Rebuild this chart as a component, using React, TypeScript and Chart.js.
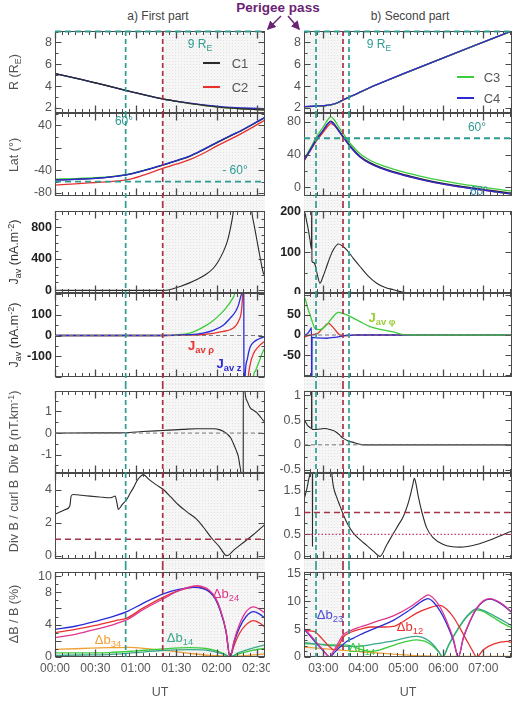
import React, { useEffect, useRef } from 'react';
import { Chart, registerables } from 'chart.js';

Chart.register(...registerables);

type Pt = [number, number | null];

// ---------------- time axes (minutes after 00:00 UT) ----------------
const LEFT_TIME_TICKS = [0, 30, 60, 90, 120, 150];
const LEFT_TIME_LABELS = ['00:00', '00:30', '01:00', '01:30', '02:00', '02:30'];
const RIGHT_TIME_TICKS = [180, 240, 300, 360, 420];
const RIGHT_TIME_LABELS = ['03:00', '04:00', '05:00', '06:00', '07:00'];

const LEFT_EVENTS = [52.5, 80];
const RIGHT_EVENTS = [169, 209.5, 218.5];
const LEFT_SHADE = [80, 156];
const RIGHT_SHADE = [151, 209.5];

// ---------------- y tick labels ----------------
const R_TICKS = [2, 4, 6, 8];
const LAT_L_TICKS = [-80, -40, 40];
const LAT_R_TICKS = [0, 40, 80];
const JAV_L_TICKS = [0, 400, 800];
const JAV_R_TICKS = [0, 100, 200];
const JAVC_L_TICKS = [-100, 0, 100];
const JAVC_R_TICKS = [-50, 0, 50];
const DIVB_L_TICKS = [-1, 0, 1];
const DIVB_R_TICKS = [-0.5, 0, 0.5, 1];
const DBC_L_TICKS = [0, 2, 4];
const DBC_R_TICKS = [0, 0.5, 1, 1.5];
const DB_L_TICKS = [0, 4, 8, 10];
const DB_R_TICKS = [0, 5, 10, 15];

// ---------------- data: first part ----------------
const R_LEFT: Pt[] = [[0, 5.15], [10, 4.88], [20, 4.6], [30, 4.3], [40, 4.0], [53, 3.6], [65, 3.24], [80, 2.83], [95, 2.52], [110, 2.25], [125, 2.04], [140, 1.92], [156, 1.82]];
const R_LEFT_C4: Pt[] = [[0, 5.15], [10, 4.88], [20, 4.6], [30, 4.3], [40, 4.0], [53, 3.6], [65, 3.24], [80, 2.83], [95, 2.53], [110, 2.28], [125, 2.1], [140, 2.0], [156, 1.93]];

const LAT_L_C1: Pt[] = [[0, -57], [15, -56], [30, -54], [45, -50.5], [53, -48], [65, -41], [80, -30.5], [90, -23], [100, -15], [110, -3.5], [120, 9], [130, 21], [138, 30], [147, 42], [156, 54]];
const LAT_L_C2: Pt[] = [[0, -66], [15, -64], [30, -61.5], [45, -59], [53, -57], [65, -49], [80, -36.5], [90, -29], [100, -21], [110, -10], [120, 3], [130, 15], [138, 25], [147, 37], [156, 49.5]];
const LAT_L_C3: Pt[] = [[0, -55.5], [15, -54.5], [30, -53], [45, -50], [53, -47.5], [65, -40.5], [80, -30.5], [90, -23], [100, -15], [110, -3.5], [120, 9], [130, 21], [138, 30], [147, 42], [156, 54]];
const LAT_L_C4: Pt[] = [[0, -57], [15, -56], [30, -54], [45, -50.5], [53, -48], [65, -41], [80, -30], [90, -22.5], [100, -14.5], [110, -3], [120, 9.5], [130, 21.5], [138, 30.5], [147, 42.5], [156, 54.5]];

const JAV_LEFT: Pt[] = [[0, 0], [80, 0], [85, 8], [93, 50], [100, 95], [105, 134], [112, 200], [117.6, 280], [121, 360], [125, 487], [128, 620], [130, 758], [132.5, 1000], [134, 1250], [139, null], [145, 1300], [146.2, 1000], [148, 820], [150, 634], [152, 450], [154.8, 217], [156, 190]];

const JAVC_L_PHI: Pt[] = [[0, 0], [80, 0], [90, 3], [100, 12], [105, 24], [112, 48], [117.6, 73], [123, 105], [127.6, 138], [131, 170], [133.7, 210], [134.5, 260], [140, null], [146.8, -280], [147.3, -205], [149, -170], [151, -137], [154.8, -73], [156, -60]];
const JAVC_L_RHO: Pt[] = [[0, 0], [80, 0], [100, 2], [110, 5], [117.6, 10], [125, 20], [130, 28], [134, 45], [136.2, 68], [138.5, 120], [139.5, 210], [140, 300], [141.5, null], [143, -300], [143.6, -205], [145, -140], [147.3, -90], [151, -55], [154.8, -33], [156, -28]];
const JAVC_L_Z: Pt[] = [[0, 0], [80, 0], [100, 4], [110, 12], [117.6, 25], [125, 50], [130, 83], [134, 115], [136.2, 146], [138, 190], [138.7, 210], [140.2, 400], [140.4, -400], [141.2, -201], [143, -110], [144.9, -57], [148, -30], [151, -18], [154.8, -8], [156, -6]];

const DIVB_LEFT: Pt[] = [[0, 0], [30, 0.01], [45, 0.01], [55, 0.03], [65, 0.07], [80, 0.12], [95, 0.17], [105, 0.2], [118, 0.2], [122, 0.16], [125, 0.08], [128, -0.05], [130.5, -0.22], [132.5, -0.48], [134.5, -0.78], [136.2, -1.09], [137.3, -1.5], [138, -1.8], [139, -3], [139.8, -3], [139.9, 3], [140.5, 3], [141.2, 1.9], [143, 1.45], [144.9, 1.18], [147.5, 1.05], [149.9, 0.95], [152, 0.8], [154.8, 0.58], [156, 0.52]];

const DBC_LEFT: Pt[] = [[0, 2.5], [4, 2.65], [8, 2.8], [11, 3.0], [12, 3.6], [13.6, 3.7], [20, 3.65], [26, 3.6], [33, 3.55], [40.9, 3.5], [43, 3.55], [44.6, 3.6], [46, 3.2], [47, 2.8], [50, 3.1], [53.3, 3.4], [56, 3.8], [58.2, 4.1], [60.7, 4.5], [63, 4.75], [65.6, 4.9], [70, 4.6], [75, 4.3], [80.5, 4.0], [86, 3.55], [92, 3.05], [98, 2.65], [105.3, 2.2], [110, 1.75], [116, 1.1], [122, 0.55], [127.6, 0], [133, 0.35], [140, 0.8], [147, 1.25], [154.8, 1.8], [156, 1.88]];

const DB_L_B24: Pt[] = [[0, 2.4], [15, 2.8], [30, 3.4], [45, 4.1], [53.3, 4.6], [65, 5.8], [80.5, 7.2], [92, 8.2], [106, 8.8], [111, 8.6], [115, 8.2], [119, 7.4], [123, 5.8], [127, 3.3], [130, 0], [133, 2.0], [137, 4.0], [142, 5.6], [147.4, 6.2], [152, 5.9], [156, 5.4]];
const DB_L_B23: Pt[] = [[0, 3.4], [15, 3.8], [30, 4.4], [45, 5.1], [53.3, 5.6], [65, 6.6], [80.5, 7.8], [92, 8.35], [102.8, 8.6], [110, 8.45], [115, 8.0], [119, 7.2], [123, 5.6], [127, 3.2], [130, 0], [133, 1.8], [137, 3.6], [142, 5.0], [147.4, 5.6], [152, 5.3], [156, 4.8]];
const DB_L_B12: Pt[] = [[0, 3.0], [15, 3.4], [30, 3.9], [45, 4.5], [53.3, 4.8], [65, 6.0], [80.5, 7.4], [92, 8.2], [104, 8.65], [110, 8.5], [115, 8.1], [119, 7.3], [123, 5.7], [127, 3.2], [130, 0], [133, 1.4], [137, 2.9], [142, 4.0], [147.4, 4.5], [152, 4.2], [156, 3.7]];
const DB_L_B34: Pt[] = [[0, 0.95], [20, 1.05], [40, 1.15], [55, 1.2], [70, 1.0], [85, 0.75], [100, 0.45], [115, 0.2], [130, 0.1], [140, 0.15], [150, 0.3], [156, 0.4]];
const DB_L_B13: Pt[] = [[0, 0.5], [20, 0.5], [40, 0.55], [60, 0.75], [80, 1.0], [100, 1.15], [112, 1.05], [120, 0.75], [126, 0.35], [130, 0], [136, 0.35], [145, 0.75], [156, 1.1]];
const DB_L_B14: Pt[] = [[0, 0.2], [20, 0.25], [40, 0.3], [60, 0.55], [80, 0.8], [100, 0.9], [112, 0.85], [120, 0.6], [126, 0.3], [130, 0], [136, 0.5], [145, 1.0], [156, 1.5]];

// ---------------- data: second part ----------------
const R_RIGHT: Pt[] = [[151, 2.12], [165, 2.15], [180, 2.2], [190, 2.27], [198, 2.4], [205, 2.58], [210, 2.74], [220, 3.02], [232, 3.35], [245, 3.73], [270, 4.38], [300, 5.13], [345, 6.22], [400, 7.55], [463, 9.05]];
const R_RIGHT_C4: Pt[] = [[151, 2.13], [165, 2.16], [180, 2.21], [190, 2.28], [198, 2.41], [205, 2.59], [210, 2.75], [220, 3.03], [232, 3.36], [245, 3.74], [270, 4.39], [300, 5.14], [345, 6.23], [400, 7.56], [463, 9.06]];

const LAT_R_C1: Pt[] = [[151, 33], [160, 45], [170, 59], [180, 70], [187, 78], [191, 81], [196, 78], [203, 70], [210, 62], [222, 49], [235, 38], [250, 30], [265, 24.5], [285, 19], [310, 13.5], [335, 8.6], [360, 4.5], [385, 1.2], [410, -1.8], [435, -4.5], [463, -7.8]];
const LAT_R_C2: Pt[] = [[151, 32], [160, 44], [170, 57], [180, 67.5], [187, 75], [191, 78], [196, 76], [203, 69], [210, 61], [222, 48], [235, 37], [250, 29], [265, 23.5], [285, 18], [310, 12.5], [335, 7.6], [360, 3.5], [385, 0.2], [410, -2.8], [435, -5.5], [463, -8.5]];
const LAT_R_C3: Pt[] = [[151, 34], [160, 47], [170, 62], [180, 74], [187, 83], [191, 86.5], [196, 83], [203, 74], [210, 65.5], [222, 52], [235, 41], [250, 33], [265, 27.5], [285, 22], [310, 16.5], [335, 11.5], [360, 7.5], [385, 4], [410, 1], [435, -2], [463, -5]];
const LAT_R_C4: Pt[] = [[151, 33], [160, 45], [170, 59], [180, 70], [187, 78], [191, 80], [196, 77], [203, 69], [210, 61], [222, 48], [235, 37], [250, 29], [265, 23.5], [285, 18], [310, 12.5], [335, 7.6], [360, 3.5], [385, 0.2], [410, -2.8], [435, -5.5], [463, -8.8]];

const JAV_RIGHT: Pt[] = [[151, 200], [152.5, 196], [155, 175], [157.5, 155], [160, 130], [162.3, 108], [162.5, 210], [162.7, 210], [162.9, 78], [165, 75], [167.5, 70], [171, 45], [175, 24], [179, 38], [185, 65], [190, 88], [195, 106], [202.5, 120], [208, 116], [215, 106], [225, 85], [235, 65], [247, 42], [260, 24], [272, 14], [285, 8], [300, 2], [320, 0.5], [463, 0.5]];

const JAVC_R_PHI: Pt[] = [[151, 95], [152.5, 91], [156, 70], [160, 50], [164, 30], [167.5, 16], [175, 13], [185, 25], [193, 42], [202.5, 56], [210, 53], [220, 46], [235, 33], [250, 21], [265, 14], [285, 8], [300, 1], [320, 0], [463, 0]];
const JAVC_R_RHO: Pt[] = [[151, -5], [160, 0], [168, 2], [172.5, 5], [180, 18], [187.5, 29], [193, 22], [200, 8], [205, 0], [215, -2], [230, 0], [463, 0]];
const JAVC_R_Z: Pt[] = [[151, 0], [156, 3], [160, 12], [162.3, 18], [162.5, -150], [162.8, -150], [163.1, -6], [170, -7], [185, -8], [200, -5], [215, -1], [230, 0], [463, 0]];

const DIVB_RIGHT: Pt[] = [[151, 0.5], [152.5, 0.48], [156, 0.4], [160, 0.35], [162.3, 0.33], [162.5, 1.5], [162.7, 1.5], [162.9, 0.31], [165, 0.31], [175, 0.32], [183, 0.33], [190, 0.31], [195, 0.29], [200, 0.25], [205, 0.19], [210, 0.13], [217, 0.08], [225, 0.05], [232, 0.02], [240, 0], [463, 0]];

const DBC_RIGHT: Pt[] = [[151, 1.3], [155, 1.52], [158, 1.75], [160, 1.9], [163.5, 2.6], [163.7, 0.23], [163.9, 2.6], [175, null], [190, 2.6], [193, 1.85], [195, 1.6], [200, 1.35], [205, 1.15], [210, 0.95], [217, 0.72], [225, 0.53], [235, 0.38], [245, 0.25], [255, 0.12], [265, 0], [275, 0.26], [285, 0.52], [292, 0.7], [300, 0.91], [306, 1.15], [310, 1.36], [314, 1.62], [316.5, 1.78], [319, 1.65], [322.5, 1.36], [328, 1.0], [335, 0.65], [345, 0.42], [360, 0.27], [385, 0.21], [410, 0.27], [435, 0.4], [463, 0.58]];

const DB_R_B24: Pt[] = [[151, 5.2], [160, 4.0], [170, 2.6], [180, 1.2], [190, 0], [192.5, 0.5], [200, 2.0], [210, 4.0], [220, 4.7], [235, 5.4], [260, 6.4], [285, 7.4], [310, 9.0], [330, 10.7], [337, 11.2], [345, 10.6], [355, 9.0], [365, 6.5], [375, 3.3], [382.5, 0], [390, 3.5], [400, 6.5], [410, 8.8], [420, 10.1], [430, 10.5], [445, 9.8], [463, 8.1]];
const DB_R_B23: Pt[] = [[151, 5.0], [160, 3.8], [170, 2.4], [180, 1.1], [190, 0], [195, 0.6], [205, 1.8], [215, 2.8], [225, 3.4], [235, 4.0], [260, 5.3], [285, 6.6], [310, 8.5], [330, 10.2], [337, 10.5], [345, 9.9], [355, 8.3], [365, 6.0], [375, 3.0], [382.5, 0], [390, 3.4], [400, 6.4], [410, 8.7], [420, 10.0], [430, 10.4], [445, 9.7], [463, 8.0]];
const DB_R_B12: Pt[] = [[151, 4.8], [160, 4.7], [168, 4.5], [178, 3.3], [188, 2.0], [196, 1.3], [203, 2.0], [210, 3.6], [222, 4.5], [235, 5.0], [250, 5.4], [270, 5.4], [285, 5.5], [300, 6.4], [320, 7.9], [340, 8.9], [355, 9.3], [365, 8.6], [375, 7.2], [385, 5.2], [395, 3.0], [403, 1.3], [410, 0], [420, 1.3], [435, 2.3], [455, 2.8], [463, 2.6]];
const DB_R_B13: Pt[] = [[151, 2.6], [165, 2.4], [180, 2.2], [200, 2.0], [220, 1.9], [240, 2.0], [260, 2.4], [285, 2.9], [305, 3.5], [320, 3.7], [333, 3.3], [345, 2.2], [353, 1.0], [359, 0], [368, 2.2], [380, 4.7], [395, 7.3], [410, 8.7], [420, 8.4], [435, 7.5], [450, 6.5], [463, 5.6]];
const DB_R_B14: Pt[] = [[151, 2.4], [170, 2.3], [190, 2.2], [210, 2.2], [222, 2.0], [235, 1.4], [250, 1.0], [265, 1.3], [285, 2.1], [305, 2.8], [320, 3.1], [333, 2.8], [345, 1.9], [353, 0.9], [359, 0], [368, 2.1], [380, 4.6], [395, 7.2], [410, 8.5], [420, 8.2], [435, 7.1], [450, 6.0], [463, 5.2]];
const DB_R_B34: Pt[] = [[151, 1.8], [180, 1.5], [210, 1.2], [240, 0.9], [270, 0.65], [300, 0.4], [330, 0.2], [355, 0.1], [380, 0.1], [463, 0.1]];

// ---------------- styles ----------------
const FONT = '"Liberation Sans", Arial, Helvetica, sans-serif';
const TEAL = '#2f9c92';
const MAROON = '#a63348';
const BLACK = '#2a2a2a';
const RED = '#e8312f';
const GREEN = '#3ccc3c';
const BLUE = '#2b2bd6';
const MAGENTA = '#e0358c';
const ORANGE = '#f0a035';
const TEALG = '#3aa88a';
const GRAY = '#555';

type Series = { d: Pt[]; c: string; w?: number };
type HLine = { y: number; c: string; dash: number[]; w: number };
type PanelDef = { yMin: number; yMax: number; ticks: number[]; minor: number; major: number; series: Series[]; hlines: HLine[]; bold?: boolean };

const LEFT_COL = { x0: 0, w: 270, axisW: 55, padR: 5, xMin: 0, xMax: 156, xTicks: LEFT_TIME_TICKS, xLabels: LEFT_TIME_LABELS, xMinor: 5, events: [{ x: LEFT_EVENTS[0], c: TEAL }, { x: LEFT_EVENTS[1], c: MAROON }], shade: LEFT_SHADE };
const RIGHT_COL = { x0: 270, w: 248, axisW: 34, padR: 6, xMin: 151, xMax: 463, xTicks: RIGHT_TIME_TICKS, xLabels: RIGHT_TIME_LABELS, xMinor: 10, events: [{ x: RIGHT_EVENTS[0], c: TEAL }, { x: RIGHT_EVENTS[1], c: MAROON }, { x: RIGHT_EVENTS[2], c: TEAL }], shade: RIGHT_SHADE };

const ROWS = [
  { top: 31, bottom: 113, extTop: 0, extBot: 0 },
  { top: 113, bottom: 196, extTop: 0, extBot: 7 },
  { top: 211, bottom: 293, extTop: 8, extBot: 0 },
  { top: 293, bottom: 377, extTop: 0, extBot: 7 },
  { top: 391, bottom: 473, extTop: 7, extBot: 0 },
  { top: 473, bottom: 559, extTop: 0, extBot: 6 },
  { top: 572, bottom: 657, extTop: 7, extBot: 0 },
];

const ZERO_DASH: HLine = { y: 0, c: '#777', dash: [4, 3], w: 1 };

const LEFT_PANELS: PanelDef[] = [
  { yMin: 1.54, yMax: 9.05, ticks: R_TICKS, minor: 1, major: 2, hlines: [{ y: 9, c: TEAL, dash: [6, 4], w: 2 }],
    series: [{ d: R_LEFT, c: RED }, { d: R_LEFT, c: GREEN }, { d: R_LEFT_C4, c: BLUE }, { d: R_LEFT, c: BLACK, w: 1.1 }] },
  { yMin: -85.5, yMax: 62, ticks: LAT_L_TICKS, minor: 20, major: 40, hlines: [{ y: -60, c: TEAL, dash: [6, 4], w: 1.8 }],
    series: [{ d: LAT_L_C2, c: RED }, { d: LAT_L_C3, c: GREEN }, { d: LAT_L_C1, c: BLACK }, { d: LAT_L_C4, c: BLUE }] },
  { yMin: -33, yMax: 1004, ticks: JAV_L_TICKS, minor: 100, major: 400, hlines: [], bold: true,
    series: [{ d: JAV_LEFT, c: BLACK, w: 1.1 }] },
  { yMin: -201, yMax: 206, ticks: JAVC_L_TICKS, minor: 50, major: 100, hlines: [ZERO_DASH], bold: true,
    series: [{ d: JAVC_L_PHI, c: GREEN }, { d: JAVC_L_RHO, c: RED }, { d: JAVC_L_Z, c: BLUE }] },
  { yMin: -1.85, yMax: 1.95, ticks: DIVB_L_TICKS, minor: 0.5, major: 1, hlines: [ZERO_DASH],
    series: [{ d: DIVB_LEFT, c: BLACK, w: 1.1 }] },
  { yMin: -0.2, yMax: 5.0, ticks: DBC_L_TICKS, minor: 1, major: 2, hlines: [{ y: 1, c: MAROON, dash: [6, 4], w: 1.5 }],
    series: [{ d: DBC_LEFT, c: BLACK, w: 1.1 }] },
  { yMin: 0, yMax: 10.5, ticks: DB_L_TICKS, minor: 1, major: 2, hlines: [],
    series: [{ d: DB_L_B34, c: ORANGE }, { d: DB_L_B13, c: GREEN }, { d: DB_L_B14, c: TEALG }, { d: DB_L_B12, c: RED }, { d: DB_L_B23, c: BLUE }, { d: DB_L_B24, c: MAGENTA }] },
];

const RIGHT_PANELS: PanelDef[] = [
  { yMin: 1.54, yMax: 9.05, ticks: R_TICKS, minor: 1, major: 2, hlines: [{ y: 9, c: TEAL, dash: [6, 4], w: 2 }],
    series: [{ d: R_RIGHT, c: BLACK }, { d: R_RIGHT, c: RED }, { d: R_RIGHT, c: GREEN }, { d: R_RIGHT_C4, c: BLUE }] },
  { yMin: -11, yMax: 91, ticks: LAT_R_TICKS, minor: 20, major: 40, hlines: [{ y: 60, c: TEAL, dash: [6, 4], w: 1.8 }],
    series: [{ d: LAT_R_C3, c: GREEN }, { d: LAT_R_C2, c: RED }, { d: LAT_R_C1, c: BLACK }, { d: LAT_R_C4, c: BLUE }] },
  { yMin: 0, yMax: 201, ticks: JAV_R_TICKS, minor: 50, major: 100, hlines: [], bold: true,
    series: [{ d: JAV_RIGHT, c: BLACK, w: 1.1 }] },
  { yMin: -104, yMax: 104, ticks: JAVC_R_TICKS, minor: 25, major: 50, hlines: [ZERO_DASH], bold: true,
    series: [{ d: JAVC_R_RHO, c: RED }, { d: JAVC_R_Z, c: BLUE }, { d: JAVC_R_PHI, c: GREEN }] },
  { yMin: -0.57, yMax: 1.09, ticks: DIVB_R_TICKS, minor: 0.25, major: 0.5, hlines: [ZERO_DASH],
    series: [{ d: DIVB_RIGHT, c: BLACK, w: 1.1 }] },
  { yMin: -0.06, yMax: 1.9, ticks: DBC_R_TICKS, minor: 0.25, major: 0.5,
    hlines: [{ y: 1, c: MAROON, dash: [6, 4], w: 1.5 }, { y: 0.5, c: '#c83a6e', dash: [1.5, 2], w: 1.2 }],
    series: [{ d: DBC_RIGHT, c: BLACK, w: 1.1 }] },
  { yMin: 0, yMax: 15.3, ticks: DB_R_TICKS, minor: 1, major: 5, hlines: [],
    series: [{ d: DB_R_B34, c: ORANGE }, { d: DB_R_B14, c: GREEN }, { d: DB_R_B13, c: TEALG }, { d: DB_R_B12, c: RED }, { d: DB_R_B23, c: BLUE }, { d: DB_R_B24, c: MAGENTA }] },
];

function shadePattern(ctx: CanvasRenderingContext2D) {
  const pc = document.createElement('canvas');
  pc.width = 3;
  pc.height = 3;
  const c = pc.getContext('2d')!;
  c.fillStyle = '#f6f6f6';
  c.fillRect(0, 0, 3, 3);
  c.fillStyle = '#e2e2e2';
  c.fillRect(1, 1, 1, 1);
  return ctx.createPattern(pc, 'repeat')!;
}

function makeDeco(col: any, row: any, panel: PanelDef) {
  return {
    id: 'deco',
    beforeDatasetsDraw(chart: any) {
      const { ctx, chartArea: ca } = chart;
      const xs = chart.scales.x;
      const y0 = ca.top - row.extTop;
      const y1 = ca.bottom + row.extBot;
      ctx.save();
      const a = Math.max(ca.left, xs.getPixelForValue(col.shade[0]));
      const b = Math.min(ca.right, xs.getPixelForValue(col.shade[1]));
      ctx.fillStyle = shadePattern(ctx);
      ctx.fillRect(a, y0, b - a, y1 - y0);
      ctx.restore();
    },
    afterDatasetsDraw(chart: any) {
      const { ctx, chartArea: ca } = chart;
      const xs = chart.scales.x;
      const ys = chart.scales.y;
      const y0 = ca.top - row.extTop;
      const y1 = ca.bottom + row.extBot;
      const line = (x1: number, yA: number, x2: number, yB: number) => {
        ctx.beginPath();
        ctx.moveTo(x1, yA);
        ctx.lineTo(x2, yB);
        ctx.stroke();
      };
      ctx.save();
      // frame + ticks
      ctx.setLineDash([]);
      ctx.strokeStyle = '#4a4a4a';
      ctx.lineWidth = 1;
      const L = Math.round(ca.left) + 0.5;
      const R = Math.round(ca.right) - 0.5;
      const T = Math.round(ca.top) + 0.5;
      const B = Math.round(ca.bottom) - 0.5;
      ctx.strokeRect(L, T, R - L, B - T);
      const xStart = Math.ceil(col.xMin / col.xMinor) * col.xMinor;
      for (let v = xStart; v <= col.xMax + 1e-9; v += col.xMinor) {
        const px = Math.round(xs.getPixelForValue(v)) + 0.5;
        const major = col.xTicks.some((t: number) => Math.abs(t - v) < 1e-6);
        const len = major ? 7 : 3.5;
        ctx.lineWidth = major ? 1.3 : 1;
        line(px, B, px, B - len);
        line(px, T, px, T + len);
      }
      const yStart = Math.ceil(panel.yMin / panel.minor - 1e-9) * panel.minor;
      for (let v = yStart; v <= panel.yMax + 1e-9; v += panel.minor) {
        const py = Math.round(ys.getPixelForValue(v)) + 0.5;
        const r = v / panel.major;
        const major = Math.abs(r - Math.round(r)) < 1e-6;
        const len = major ? 6 : 3;
        ctx.lineWidth = 1;
        line(L, py, L + len, py);
        line(R, py, R - len, py);
      }
      // horizontal reference lines
      for (const h of panel.hlines) {
        const py = ys.getPixelForValue(h.y);
        ctx.strokeStyle = h.c;
        ctx.lineWidth = h.w;
        ctx.setLineDash(h.dash);
        line(ca.left, py, ca.right, py);
      }
      // event lines
      for (const ev of col.events) {
        const px = xs.getPixelForValue(ev.x);
        ctx.strokeStyle = ev.c;
        ctx.lineWidth = 1.7;
        ctx.setLineDash([5, 3]);
        line(px, y0, px, y1);
      }
      ctx.restore();
    },
  };
}

function Panel({ col, row, panel, isBottom }: { col: any; row: any; panel: PanelDef; isBottom: boolean }) {
  const ref = useRef<HTMLCanvasElement>(null);
  const canvasTop = row.top - row.extTop - 1;
  const canvasBottom = isBottom ? 706 : row.bottom + row.extBot + 1;
  const h = canvasBottom - canvasTop;
  useEffect(() => {
    const tickColor = panel.bold ? '#222' : GRAY;
    const chart = new Chart(ref.current!, {
      type: 'line',
      data: {
        datasets: [...panel.series].reverse().map((s) => ({
          data: s.d.map(([x, y]) => ({ x, y })),
          borderColor: s.c,
          borderWidth: s.w ?? 1.3,
          pointRadius: 0,
          fill: false,
          cubicInterpolationMode: 'monotone',
          spanGaps: false,
        })),
      },
      options: {
        responsive: false,
        animation: false,
        events: [],
        layout: { padding: { left: 0, right: col.padR, top: row.extTop + 1, bottom: isBottom ? 0 : row.extBot + 1 } },
        plugins: { legend: { display: false }, tooltip: { enabled: false } },
        scales: {
          x: {
            type: 'linear',
            min: col.xMin,
            max: col.xMax,
            display: isBottom,
            grid: { display: false, drawTicks: false },
            border: { display: false },
            afterBuildTicks: (s: any) => {
              s.ticks = col.xTicks.map((v: number) => ({ value: v }));
            },
            afterFit: (s: any) => {
              if (isBottom) {
                s.height = 49;
                s.paddingLeft = 0;
                s.paddingRight = 0;
              }
            },
            ticks: {
              autoSkip: false,
              maxRotation: 0,
              padding: 4,
              color: GRAY,
              font: { family: FONT, size: 12 },
              callback: (v: any) => {
                const i = col.xTicks.indexOf(v);
                return i >= 0 ? col.xLabels[i] : '';
              },
            },
            title: { display: true, text: 'UT', color: GRAY, font: { family: FONT, size: 12.5 }, padding: { top: 4, bottom: 6 } },
          },
          y: {
            type: 'linear',
            min: panel.yMin,
            max: panel.yMax,
            grid: { display: false, drawTicks: false },
            border: { display: false },
            afterBuildTicks: (s: any) => {
              s.ticks = panel.ticks.map((v) => ({ value: v }));
            },
            afterFit: (s: any) => {
              s.width = col.axisW;
              s.paddingTop = 0;
              s.paddingBottom = 0;
            },
            ticks: {
              autoSkip: false,
              padding: 3,
              color: tickColor,
              font: { family: FONT, size: 12.5, weight: panel.bold ? 'bold' : 'normal' },
              callback: (v: any) => String(v),
            },
          },
        },
      } as any,
      plugins: [makeDeco(col, row, panel)],
    });
    return () => chart.destroy();
  }, []);
  return (
    <canvas
      ref={ref}
      width={col.w}
      height={h}
      style={{ position: 'absolute', left: col.x0, top: canvasTop, width: col.w, height: h }}
    />
  );
}

const Sub = ({ children }: any) => (
  <span style={{ fontSize: '0.72em', position: 'relative', top: '0.35em' }}>{children}</span>
);
const Sup = ({ children }: any) => (
  <span style={{ fontSize: '0.72em', position: 'relative', top: '-0.45em' }}>{children}</span>
);

function Txt({ x, y, children, size = 12, color = GRAY, weight = 'normal', rot = false }: any) {
  return (
    <div
      style={{
        position: 'absolute',
        left: x,
        top: y,
        transform: rot ? 'translate(-50%, -50%) rotate(-90deg)' : 'translate(-50%, -50%)',
        whiteSpace: 'nowrap',
        fontFamily: FONT,
        fontSize: size,
        fontWeight: weight,
        color,
        lineHeight: 1,
      }}
    >
      {children}
    </div>
  );
}

function Swatch({ x, y, c }: any) {
  return <div style={{ position: 'absolute', left: x, top: y - 1, width: 17, height: 2.2, background: c }} />;
}

export default function App() {
  return (
    <div style={{ position: 'absolute', left: 0, top: 0, width: 518, height: 706, background: '#fff', overflow: 'hidden' }}>
      {LEFT_PANELS.map((p, i) => (
        <Panel key={'l' + i} col={LEFT_COL} row={ROWS[i]} panel={p} isBottom={i === 6} />
      ))}
      {RIGHT_PANELS.map((p, i) => (
        <Panel key={'r' + i} col={RIGHT_COL} row={ROWS[i]} panel={p} isBottom={i === 6} />
      ))}

      {/* titles */}
      <Txt x={278} y={8} size={13.5} weight="bold" color="#6b2475">Perigee pass</Txt>
      <Txt x={158} y={16} size={12} color="#444">a) First part</Txt>
      <Txt x={410} y={16} size={12} color="#444">b) Second part</Txt>
      <svg width={518} height={40} style={{ position: 'absolute', left: 0, top: 0, pointerEvents: 'none' }}>
        <defs>
          <marker id="ah" markerWidth="6" markerHeight="6" refX="5" refY="3" orient="auto">
            <path d="M0,0 L6,3 L0,6 z" fill="#6b2475" />
          </marker>
        </defs>
        <line x1={281} y1={16} x2={268} y2={29} stroke="#6b2475" strokeWidth={1.5} markerEnd="url(#ah)" />
        <line x1={288} y1={16} x2={299} y2={29} stroke="#6b2475" strokeWidth={1.5} markerEnd="url(#ah)" />
      </svg>

      {/* y axis titles */}
      <Txt x={14} y={72} rot size={12.5}>R (R<Sub>E</Sub>)</Txt>
      <Txt x={14} y={155} rot size={12.5}>Lat (°)</Txt>
      <Txt x={14} y={252} rot size={12.5} color="#333">J<Sub>av</Sub> (nA.m<Sup>-2</Sup>)</Txt>
      <Txt x={14} y={335} rot size={12.5} color="#333">J<Sub>av</Sub> (nA.m<Sup>-2</Sup>)</Txt>
      <Txt x={14} y={432} rot size={12.5}>Div B (nT.km<Sup>-1</Sup>)</Txt>
      <Txt x={14} y={516} rot size={12.5}>Div B / curl B</Txt>
      <Txt x={14} y={614} rot size={12.5}>ΔB / B (%)</Txt>

      {/* R panel annotations & legends */}
      <Txt x={200} y={44} size={12} color={TEAL}>9 R<Sub>E</Sub></Txt>
      <Txt x={379} y={44} size={12} color={TEAL}>9 R<Sub>E</Sub></Txt>
      <Swatch x={203} y={63} c={BLACK} />
      <Txt x={240} y={63} size={13}>C1</Txt>
      <Swatch x={203} y={87} c={RED} />
      <Txt x={240} y={87} size={13}>C2</Txt>
      <Swatch x={457} y={77} c={GREEN} />
      <Txt x={492} y={77} size={13}>C3</Txt>
      <Swatch x={457} y={98} c={BLUE} />
      <Txt x={492} y={98} size={13}>C4</Txt>

      {/* Lat annotations */}
      <Txt x={124} y={121} size={12} color={TEAL}>60°</Txt>
      <Txt x={235} y={170} size={12} color={TEAL}>- 60°</Txt>
      <Txt x={477} y={127} size={12} color={TEAL}>60°</Txt>
      <Txt x={479} y={191} size={12} color="#3a8fb0">60°</Txt>

      {/* current component labels */}
      <Txt x={201} y={346} size={13} color={RED} weight="bold">J<Sub>av ρ</Sub></Txt>
      <Txt x={229} y={364} size={13} color={BLUE} weight="bold">J<Sub>av z</Sub></Txt>
      <Txt x={382} y={318} size={13} color="#9acd32" weight="bold">J<Sub>av φ</Sub></Txt>

      {/* ΔB/B labels */}
      <Txt x={108} y={640} size={13} color={ORANGE}>Δb<Sub>34</Sub></Txt>
      <Txt x={180} y={638} size={13} color={TEALG}>Δb<Sub>14</Sub></Txt>
      <Txt x={226} y={594} size={13} color={MAGENTA}>Δb<Sub>24</Sub></Txt>
      <Txt x={330} y={615} size={13} color="#4b4bd8">Δb<Sub>23</Sub></Txt>
      <Txt x={410} y={627} size={13} color={RED}>Δb<Sub>12</Sub></Txt>
      <Txt x={362} y={648} size={13} color={GREEN}>Δb<Sub>14</Sub></Txt>
    </div>
  );
}
